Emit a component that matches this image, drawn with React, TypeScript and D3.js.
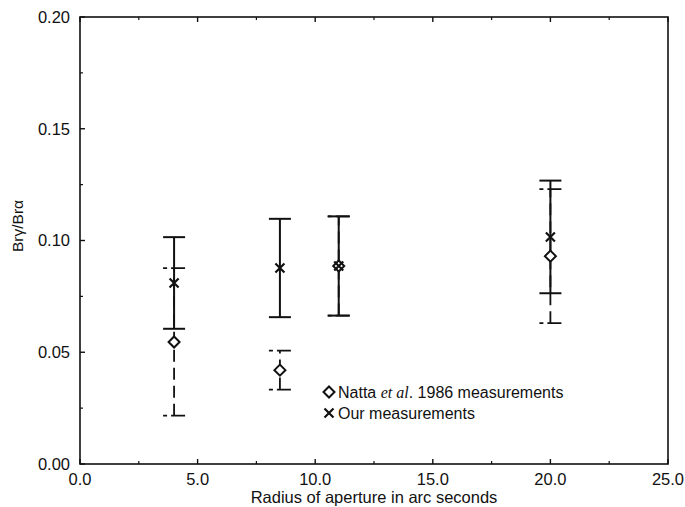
import * as d3 from "d3";

// aperture radii (arc seconds)
const radii = [4.0, 8.5, 11.0, 20.0];
// "Our measurements" (x, solid bars)
const ourValues = [0.081, 0.0877, 0.0886, 0.1016];
const ourErrors = [0.0205, 0.022, 0.0222, 0.0252];
// Natta et al. 1986 (diamond, dashed bars)
const nattaValues = [0.0546, 0.042, 0.0886, 0.093];
const nattaErrors = [0.033, 0.0087, 0.0222, 0.030];

const xTicks = [0, 5, 10, 15, 20, 25];
const xMinor = [2.5, 7.5, 12.5, 17.5, 22.5];
const yTicks = [0, 0.05, 0.1, 0.15, 0.2];
const yMinor = [0.025, 0.075, 0.125, 0.175];

const W = 685;
const H = 507;
const margin = { top: 17, right: 17, bottom: 43, left: 80 };
const FONT = "'Liberation Sans', Arial, Helvetica, sans-serif";

export default function App() {
  const x = d3.scaleLinear().domain([0, 25]).range([margin.left, W - margin.right]);
  const y = d3.scaleLinear().domain([0, 0.2]).range([H - margin.bottom, margin.top]);
  const fmtX = d3.format(".1f");
  const fmtY = d3.format(".2f");
  const capW = 11;

  const ourPts = radii.map((r, i) => ({ r, v: ourValues[i], e: ourErrors[i] }));
  const nattaPts = radii.map((r, i) => ({ r, v: nattaValues[i], e: nattaErrors[i] }));

  const diamond = (cx: number, cy: number, s: number) =>
    `M${cx},${cy - s}L${cx + s},${cy}L${cx},${cy + s}L${cx - s},${cy}Z`;
  const cross = (cx: number, cy: number, s: number) =>
    `M${cx - s},${cy - s}L${cx + s},${cy + s}M${cx - s},${cy + s}L${cx + s},${cy - s}`;

  const [x0, x1] = x.range();
  const [yb, yt] = y.range();

  return (
    <svg
      width={W}
      height={H}
      style={{ position: "absolute", left: 0, top: 0, background: "#fff" }}
      fontFamily={FONT}
    >
      {/* frame */}
      <rect x={x0} y={yt} width={x1 - x0} height={yb - yt} fill="none" stroke="#111" strokeWidth={1.6} />

      {/* x ticks, bottom and top, inward */}
      {xTicks.map((t) => (
        <g key={"xt" + t}>
          <line x1={x(t)} x2={x(t)} y1={yb} y2={yb - 5} stroke="#111" strokeWidth={1.4} />
          <line x1={x(t)} x2={x(t)} y1={yt} y2={yt + 5} stroke="#111" strokeWidth={1.4} />
          <text x={x(t)} y={yb + 21} textAnchor="middle" fontSize={16.5} fill="#111">
            {fmtX(t)}
          </text>
        </g>
      ))}
      {xMinor.map((t) => (
        <g key={"xm" + t}>
          <line x1={x(t)} x2={x(t)} y1={yb} y2={yb - 3} stroke="#111" strokeWidth={1.2} />
          <line x1={x(t)} x2={x(t)} y1={yt} y2={yt + 3} stroke="#111" strokeWidth={1.2} />
        </g>
      ))}

      {/* y ticks, left only */}
      {yTicks.map((t) => (
        <g key={"yt" + t}>
          <line x1={x0} x2={x0 + 5} y1={y(t)} y2={y(t)} stroke="#111" strokeWidth={1.4} />
          <text x={x0 - 10} y={y(t)} dy="0.35em" textAnchor="end" fontSize={16.5} fill="#111">
            {fmtY(t)}
          </text>
        </g>
      ))}
      {yMinor.map((t) => (
        <line key={"ym" + t} x1={x0} x2={x0 + 3} y1={y(t)} y2={y(t)} stroke="#111" strokeWidth={1.2} />
      ))}

      {/* axis titles */}
      <text x={(x0 + x1) / 2} y={H - 4} textAnchor="middle" fontSize={16.5} fill="#111">
        Radius of aperture in arc seconds
      </text>
      <text
        transform={`translate(23,226) rotate(-90)`}
        textAnchor="middle"
        fontSize={15.5}
        fill="#111"
      >
        Brγ/Brα
      </text>

      {/* Natta et al. dashed error bars */}
      {nattaPts.map((d, i) => (
        <g key={"ne" + i} stroke="#111" strokeWidth={1.8} fill="none">
          <line x1={x(d.r)} x2={x(d.r)} y1={y(d.v - d.e)} y2={y(d.v + d.e)} strokeDasharray="12,6" />
          <line x1={x(d.r) - capW} x2={x(d.r) + capW} y1={y(d.v + d.e)} y2={y(d.v + d.e)} strokeDasharray="4,4,14,4" />
          <line x1={x(d.r) - capW} x2={x(d.r) + capW} y1={y(d.v - d.e)} y2={y(d.v - d.e)} strokeDasharray="4,4,14,4" />
        </g>
      ))}

      {/* our solid error bars */}
      {ourPts.map((d, i) => (
        <g key={"oe" + i} stroke="#111" strokeWidth={2}>
          <line x1={x(d.r)} x2={x(d.r)} y1={y(d.v - d.e)} y2={y(d.v + d.e)} />
          <line x1={x(d.r) - capW} x2={x(d.r) + capW} y1={y(d.v + d.e)} y2={y(d.v + d.e)} />
          <line x1={x(d.r) - capW} x2={x(d.r) + capW} y1={y(d.v - d.e)} y2={y(d.v - d.e)} />
        </g>
      ))}

      {/* markers */}
      {nattaPts.map((d, i) => (
        <path key={"nm" + i} d={diamond(x(d.r), y(d.v), 5.5)} fill="#fff" stroke="#111" strokeWidth={2} />
      ))}
      {ourPts.map((d, i) => (
        <path key={"om" + i} d={cross(x(d.r), y(d.v), 4.5)} fill="none" stroke="#111" strokeWidth={2.2} />
      ))}

      {/* legend */}
      <g transform="translate(329,392)">
        <path d={diamond(0, 0, 5.5)} fill="#fff" stroke="#111" strokeWidth={2} />
        <text x={9} y={0} dy="0.35em" fontSize={16} fill="#111">
          Natta <tspan fontFamily="'Liberation Serif', 'Times New Roman', serif" fontStyle="italic">et al</tspan>. 1986 measurements
        </text>
        <path d={cross(0, 21, 4.5)} fill="none" stroke="#111" strokeWidth={2.2} />
        <text x={9} y={21} dy="0.35em" fontSize={16} fill="#111">
          Our measurements
        </text>
      </g>
    </svg>
  );
}
